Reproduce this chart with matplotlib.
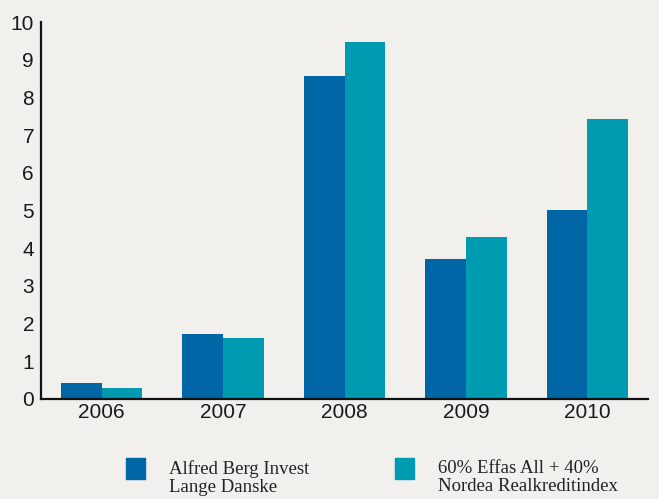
import matplotlib.pyplot as plt
from matplotlib.patches import Rectangle
import numpy as np

years = ['2006', '2007', '2008', '2009', '2010']
alfred_berg = [0.42, 1.72, 8.57, 3.71, 5.01]
benchmark = [0.29, 1.62, 9.47, 4.30, 7.43]
labels = ['Alfred Berg Invest\nLange Danske', '60% Effas All + 40%\nNordea Realkreditindex']
colors = ['#0066a6', '#009bb1']
bg = '#f1f0ed'

fig = plt.figure(figsize=(6.59, 4.99), dpi=100, facecolor=bg)
ax = fig.add_axes([41 / 659, 100 / 499, 607 / 659, 377 / 499], facecolor=bg)

x = np.arange(len(years))
w = 0.335
ax.bar(x - w / 2, alfred_berg, w, color=colors[0])
ax.bar(x + w / 2, benchmark, w, color=colors[1])

ax.set_xlim(-0.5, 4.5)
ax.set_ylim(0, 10)
ax.set_yticks(range(0, 11))
ax.set_xticks(x)
ax.set_xticklabels(years)
ax.tick_params(length=0, labelsize=15, labelcolor='#1a1a1a',
               labelfontfamily='Liberation Sans')
ax.tick_params(axis='x', pad=3)
ax.tick_params(axis='y', pad=5)
for side in ['top', 'right']:
    ax.spines[side].set_visible(False)
for side in ['left', 'bottom']:
    ax.spines[side].set_linewidth(1.6)
    ax.spines[side].set_color('#111111')

# legend drawn by hand: square next to the first line of each label
for xs, xt, c, lab in [(126, 169, colors[0], labels[0]), (395, 438, colors[1], labels[1])]:
    fig.patches.append(Rectangle((xs / 659, (499 - 479) / 499), 19 / 659, 21 / 499,
                                 transform=fig.transFigure, color=c))
    fig.text(xt / 659, (499 - 460) / 499, lab, ha='left', va='top',
             fontsize=13.5, family='Liberation Serif', color='#222222', linespacing=1.08)

fig.savefig('out.png', dpi=100, facecolor=bg)
